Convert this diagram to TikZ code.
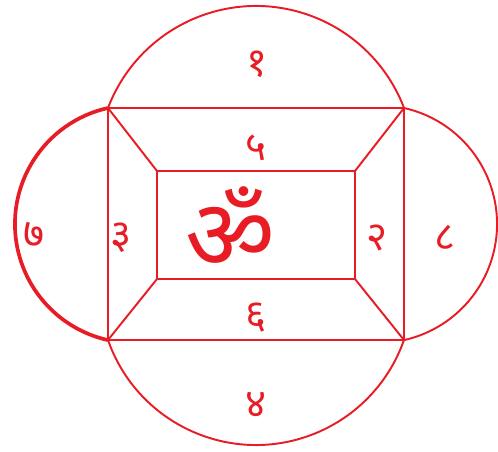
\documentclass[tikz,border=0pt]{standalone}
\usepackage{fontspec}
\newfontfamily\devfont[Script=Devanagari]{Noto Sans}
\definecolor{inkred}{RGB}{232,28,36}

\newcommand*{\xl}{108}
\newcommand*{\xr}{404}
\newcommand*{\yt}{108}
\newcommand*{\yb}{340}

\begin{document}
\begin{tikzpicture}
[
	x=0.02cm, y=-0.02cm,
	line/.style={draw=inkred,line width=1.1pt},
	heavy/.style={draw=inkred,line width=2.1pt},
	num/.style={text=inkred,font=\devfont\fontsize{23}{26}\selectfont,inner sep=0pt},
	om/.style={text=inkred,font=\devfont\fontsize{56}{60}\selectfont,inner sep=0pt}
]
	\useasboundingbox (0,0) rectangle (498,451);

	% corners
	\coordinate (tl) at (\xl,\yt);
	\coordinate (tr) at (\xr,\yt);
	\coordinate (bl) at (\xl,\yb);
	\coordinate (br) at (\xr,\yb);
	\coordinate (itl) at (157,171);
	\coordinate (itr) at (355,171);
	\coordinate (ibl) at (157,279);
	\coordinate (ibr) at (355,279);

	% rectangles and corner lines
	\draw[line] (tl) -- (tr) -- (br) -- (bl) -- cycle;
	\draw[line] (itl) -- (itr) -- (ibr) -- (ibl) -- cycle;
	\draw[line]
	  (tl) -- (itl)
	  (tr) -- (itr)
	  (bl) -- (ibl)
	  (br) -- (ibr)
	;

	% arcs
	\draw[line] (tl) arc[start angle=200.85, end angle=339.15, radius=158.4];
	\draw[line] (bl) arc[start angle=160.71, end angle=19.29, radius=156.8];
	\draw[heavy] (tl) arc[start angle=257.44, end angle=102.56, radius=118.9];
	\draw[line] (tr) arc[start angle=282.56, end angle=437.44, radius=118.9];

	% numbers
	\node[num] (ek) at (257,64) {१};
	\node[num] (paanch) at (256,148) {५};
	\node[num] (teen) at (121,238) {३};
	\node[num] (do) at (377,238) {२};
	\node[num] (chhah) at (256,318) {६};
	\node[num] (chaar) at (256,405) {४};
	\node[num] (saat) at (34,235) {७};
	\node[num] (aath) at (445,238) {८};
	\node[om] (omkar) at (230,228) {ॐ};

\end{tikzpicture}
\end{document}
